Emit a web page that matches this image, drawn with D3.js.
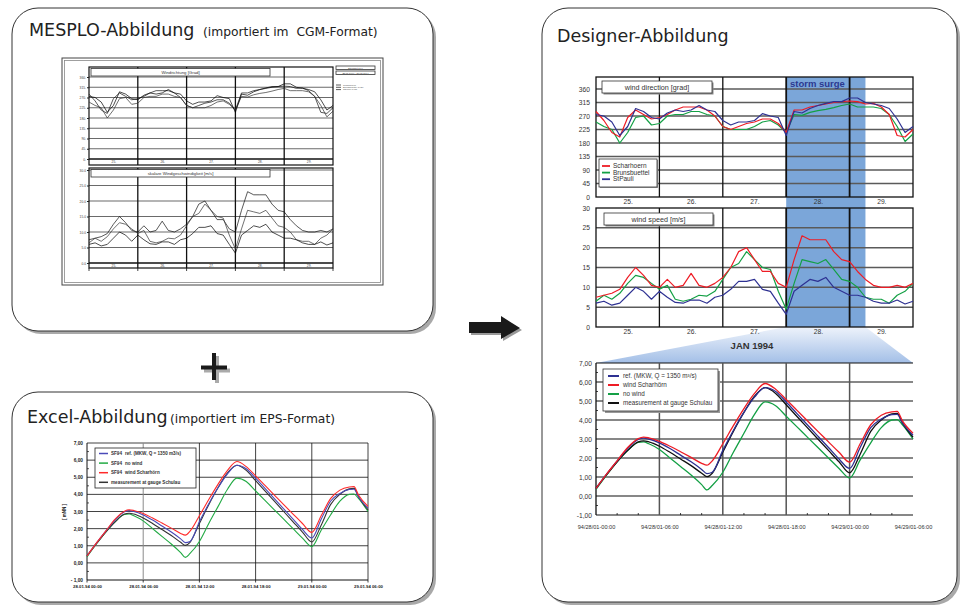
<!DOCTYPE html>
<html>
<head>
<meta charset="utf-8">
<script src="https://cdnjs.cloudflare.com/ajax/libs/d3/7.8.5/d3.min.js"></script>
<style>
  body { margin: 0; background: #fff; }
  svg { display: block; }
</style>
</head>
<body>
<script>
// wind 25.-29. Jan 1994, sampled every 3 hours
var windHours = [0, 3, 6, 9, 12, 15, 18, 21, 24, 27, 30, 33, 36, 39, 42, 45, 48, 51, 54, 57, 60,
    63, 66, 69, 72, 75, 78, 81, 84, 87, 90, 93, 96, 99, 102, 105, 108, 111, 114, 117, 120];
var days = ['25.', '26.', '27.', '28.', '29.'];
var dayCenters = [12, 36, 60, 84, 108];
var dayLines = [24, 48, 72, 96];
var dirTicks = [0, 45, 90, 135, 180, 225, 270, 315, 360];
var speedTicks = [0, 5, 10, 15, 20, 25, 30];
var surge = [72, 102];

var dirScharhoern = [285, 255, 215, 200, 265, 290, 275, 260, 265, 275, 290, 300, 300, 300, 290, 270, 235,
    225, 235, 245, 250, 260, 260, 245, 215, 290, 290, 300, 305, 310, 315, 318, 320,
    318, 310, 312, 300, 275, 205, 200, 225];
var dirBrunsbuettel = [250, 235, 225, 180, 215, 265, 270, 240, 245, 270, 275, 275, 285, 285, 275, 270, 235,
    225, 225, 225, 235, 250, 255, 240, 215, 275, 272, 282, 288, 292, 298, 305, 310,
    300, 300, 300, 295, 275, 235, 185, 210];
var dirStPauli = [275, 270, 250, 205, 235, 295, 285, 265, 260, 280, 290, 285, 290, 305, 290, 285, 255,
    240, 250, 250, 255, 278, 270, 265, 205, 285, 280, 295, 305, 312, 318, 318, 330,
    330, 315, 310, 305, 295, 260, 215, 235];

var spdScharhoern = [7.5, 8, 8.5, 9.5, 12.5, 15, 13, 10.5, 10, 12, 10, 10.5, 13.5, 10.5, 10, 11, 12.5,
    15, 19, 20, 17, 14, 14, 11, 10, 17, 23, 22, 22, 22, 19, 17, 16.5,
    14, 12, 10.5, 10, 10, 10.5, 10, 11];
var spdBrunsbuettel = [6.5, 8, 7, 8.5, 11, 13, 12.5, 11, 9.5, 10.5, 7, 6.5, 7, 8, 7.8, 9, 12,
    15, 16, 19, 17, 15, 14.5, 9, 4.5, 11, 17, 16.5, 16, 17, 14.5, 12, 11.5,
    10, 7.5, 7, 7, 6, 8, 9, 11];
var spdStPauli = [6, 6.5, 5.5, 6, 8, 10, 9, 7, 9, 7.5, 6.2, 6, 6.8, 6.8, 6, 7.5, 8,
    9.5, 11.5, 11.5, 12, 9.5, 9, 6, 3.2, 9, 10.5, 12, 11.5, 12.5, 10, 9, 8,
    8, 7.5, 6.5, 6, 6, 6.8, 5.8, 6.5];

// water level 28.01.94 00:00 - 29.01.94 06:00 (hours)
var levelHours = [0, 1, 2, 3, 4, 4.5, 5, 6, 7, 8, 9, 10, 10.5, 11, 12, 13, 14, 15, 16, 17, 18,
    19, 20, 21, 22, 23, 24, 25, 26, 27, 28, 28.5, 29, 30];
var levelTicks = [-1, 0, 1, 2, 3, 4, 5, 6, 7];
var levelTimeTicks = [0, 6, 12, 18, 24, 30];
var designerTimeLabels = ['94/28/01-00:00', '94/28/01-06:00', '94/28/01-12:00',
    '94/28/01-18:00', '94/29/01-00:00', '94/29/01-06:00'];
var excelTimeLabels = ['28.01.94 00:00', '28.01.94 06:00', '28.01.94 12:00',
    '28.01.94 18:00', '29.01.94 00:00', '29.01.94 06:00'];

var levelRef = [0.40, 1.15, 1.85, 2.50, 2.98, 3.05, 3.00, 2.80, 2.50, 2.15, 1.80, 1.40, 1.18, 1.25, 2.40,
    3.45, 4.40, 5.20, 5.70, 5.50, 4.95, 4.35, 3.75, 3.15, 2.55, 1.95, 1.45, 2.55, 3.60, 4.05,
    4.28, 4.30, 3.85, 3.20];
var levelWind = [0.40, 1.15, 1.85, 2.55, 3.02, 3.10, 3.06, 2.88, 2.62, 2.33, 2.03, 1.72, 1.62, 1.85, 2.75,
    3.70, 4.60, 5.40, 5.92, 5.62, 5.08, 4.52, 3.96, 3.40, 2.85, 2.30, 1.78, 2.75, 3.75, 4.25,
    4.43, 4.45, 3.95, 3.30];
var levelNoWind = [0.35, 1.10, 1.80, 2.40, 2.82, 2.85, 2.75, 2.45, 2.00, 1.55, 1.10, 0.60, 0.32, 0.55, 1.25,
    2.30, 3.30, 4.30, 4.95, 4.75, 4.20, 3.65, 3.10, 2.55, 2.00, 1.45, 0.95, 1.90, 2.80, 3.60,
    4.00, 4.02, 3.75, 3.00];
var levelGauge = [0.40, 1.12, 1.80, 2.40, 2.85, 2.90, 2.85, 2.62, 2.30, 1.95, 1.60, 1.20, 1.02, 1.20, 2.30,
    3.40, 4.40, 5.25, 5.70, 5.40, 4.80, 4.20, 3.60, 3.00, 2.40, 1.80, 1.22, 2.20, 3.40, 4.00,
    4.32, 4.35, 3.85, 3.10];

var RED = '#ee1c25', GREEN = '#14a045', BLUE = '#2e3192', BLACK = '#111';
var titleFont = '"DejaVu Sans", Verdana, sans-serif';
var chartFont = '"Liberation Sans", Arial, sans-serif';

var svg = d3.select('body').append('svg')
    .attr('width', 964)
    .attr('height', 607);

function panel(x, y, w, h) {
    svg.append('rect').attr('x', x + 3).attr('y', y + 3).attr('width', w).attr('height', h)
        .attr('rx', 26).attr('fill', '#a9a9a9');
    svg.append('rect').attr('x', x).attr('y', y).attr('width', w).attr('height', h)
        .attr('rx', 26).attr('fill', '#fff').attr('stroke', '#333').attr('stroke-width', 1);
}

function title(x, y, big, small, smallX) {
    var t = svg.append('text').attr('x', x).attr('y', y).attr('fill', '#222')
        .style('font-family', titleFont).style('white-space', 'pre');
    t.append('tspan').attr('font-size', 17.5).text(big);
    if (small) t.append('tspan').attr('x', smallX).attr('font-size', 12.3).text(small);
}

function hline(g, x1, x2, y, color, width) {
    g.append('line').attr('x1', x1).attr('x2', x2).attr('y1', y).attr('y2', y)
        .attr('stroke', color).attr('stroke-width', width);
}
function vline(g, x, y1, y2, color, width) {
    g.append('line').attr('x1', x).attr('x2', x).attr('y1', y1).attr('y2', y2)
        .attr('stroke', color).attr('stroke-width', width);
}

function series(g, xs, ys, x, y, color, width) {
    var line = d3.line().x(function (d) { return x(d[0]); }).y(function (d) { return y(d[1]); });
    g.append('path').datum(d3.zip(xs, ys)).attr('d', line)
        .attr('fill', 'none').attr('stroke', color).attr('stroke-width', width)
        .attr('stroke-linejoin', 'round');
}

function smooth(g, xs, ys, x, y, color, width) {
    var line = d3.line().curve(d3.curveMonotoneX)
        .x(function (d) { return x(d[0]); }).y(function (d) { return y(d[1]); });
    g.append('path').datum(d3.zip(xs, ys)).attr('d', line)
        .attr('fill', 'none').attr('stroke', color).attr('stroke-width', width);
}

function labelAxis(g, axis, tx, ty, size, color, weight) {
    var a = g.append('g').attr('transform', 'translate(' + tx + ',' + ty + ')').call(axis);
    a.select('.domain').remove();
    a.selectAll('line').attr('stroke', '#222');
    a.selectAll('text').attr('font-family', chartFont).attr('font-size', size)
        .attr('fill', color).attr('font-weight', weight || 'normal');
    return a;
}

function boxLabel(g, x, y, w, h, text, size, shadow) {
    if (shadow) g.append('rect').attr('x', x + shadow).attr('y', y + shadow).attr('width', w).attr('height', h)
        .attr('fill', '#8a8a8a');
    g.append('rect').attr('x', x).attr('y', y).attr('width', w).attr('height', h)
        .attr('fill', '#fff').attr('stroke', '#333').attr('stroke-width', 0.8);
    if (text) g.append('text').attr('x', x + w / 2).attr('y', y + h / 2).attr('dy', '0.35em')
        .attr('text-anchor', 'middle').attr('font-family', chartFont).attr('font-size', size)
        .attr('fill', '#333').text(text);
}

// ---------- panels ----------
panel(12, 8, 421, 323);
panel(12, 392, 421, 210);
panel(542, 8, 415, 594);
title(29, 36, 'MESPLO-Abbildung', '(importiert im  CGM-Format)', 203);
title(27, 423, 'Excel-Abbildung', '(importiert im EPS-Format)', 170);
title(557, 42, 'Designer-Abbildung');

// plus and arrow
svg.append('rect').attr('x', 204).attr('y', 368.5).attr('width', 26).attr('height', 4).attr('fill', '#aaa');
svg.append('rect').attr('x', 215).attr('y', 356).attr('width', 4).attr('height', 27).attr('fill', '#aaa');
svg.append('rect').attr('x', 201).attr('y', 365.5).attr('width', 26).attr('height', 4).attr('fill', '#1a1a1a');
svg.append('rect').attr('x', 212).attr('y', 353).attr('width', 4).attr('height', 27).attr('fill', '#1a1a1a');
var arrowPts = [[469, 322], [501, 322], [501, 316], [520, 328], [501, 339], [501, 333], [469, 333]];
svg.append('polygon').attr('points', arrowPts.map(function (p) { return (p[0] + 2) + ',' + (p[1] + 2); }).join(' '))
    .attr('fill', '#999');
svg.append('polygon').attr('points', arrowPts.join(' ')).attr('fill', '#1a1a1a');

// ---------- MESPLO picture ----------
var mg = svg.append('g');
mg.append('rect').attr('x', 62).attr('y', 58).attr('width', 321).attr('height', 227)
    .attr('fill', '#fff').attr('stroke', '#444').attr('stroke-width', 1);
mg.append('rect').attr('x', 64.5).attr('y', 60.5).attr('width', 316).attr('height', 222)
    .attr('fill', 'none').attr('stroke', '#888').attr('stroke-width', 0.8);

var xM = d3.scaleLinear().domain([0, 120]).range([89, 333]);
var yMD = d3.scaleLinear().domain([0, 360]).range([159, 77]);
var yMS = d3.scaleLinear().domain([0, 30]).range([263, 170]);

function mesploChart(top, bottom, y, ticks, fmt, name, a, b, c) {
    var zero = y(0);
    ticks.forEach(function (t) {
        if (t > 0) hline(mg, xM(0), xM(120), y(t), '#6a6a6a', 1.1);
    });
    hline(mg, xM(0), xM(120), zero, '#111', 1.4);
    dayLines.forEach(function (d) { vline(mg, xM(d), top, bottom, '#111', 1.3); });
    mg.append('rect').attr('x', xM(0)).attr('y', top).attr('width', xM(120) - xM(0)).attr('height', bottom - top)
        .attr('fill', 'none').attr('stroke', '#111').attr('stroke-width', 1.2);
    boxLabel(mg, 91, top + 1.5, 179, 7.5, name, 4.3);
    series(mg, windHours, a, xM, y, '#111', 0.7);
    series(mg, windHours, b, xM, y, '#333', 0.7);
    series(mg, windHours, c, xM, y, '#000', 0.7);
    labelAxis(mg, d3.axisLeft(y).tickValues(ticks).tickFormat(fmt).tickSize(2).tickPadding(1),
        xM(0), 0, 3.3, '#444');
    labelAxis(mg, d3.axisBottom(xM).tickValues(dayCenters).tickFormat(function (d, i) { return days[i]; })
        .tickSize(0).tickPadding(1.2), 0, zero, 3.3, '#444');
}
mesploChart(67, 165, yMD, dirTicks, function (d) { return d + '.'; }, 'Windrichtung [Grad]',
    dirScharhoern, dirBrunsbuettel, dirStPauli);
mesploChart(168, 268, yMS, speedTicks, function (d) { return d.toFixed(1); }, 'skalare Windgeschwindigkeit [m/s]',
    spdScharhoern, spdBrunsbuettel, spdStPauli);
[0, 24, 48, 72, 96, 120].forEach(function (d) { vline(mg, xM(d), 268, 271, '#111', 0.8); });

boxLabel(mg, 336, 66, 39, 3.5, 'Sturmflut 1/94', 2.4);
boxLabel(mg, 336, 71, 39, 3.5, '25.01.1994 - 30.01.1994', 2.4);
['Scharhoern', 'Brunsbuettel 1426', 'StPauli 1457'].forEach(function (s, i) {
    var yy = 85 + i * 2.3;
    hline(mg, 336, 341, yy, '#333', 0.8);
    mg.append('text').attr('x', 343).attr('y', yy).attr('dy', '0.35em').attr('font-family', chartFont)
        .attr('font-size', 2.5).attr('fill', '#555').text(s);
});

// ---------- Excel picture ----------
var eg = svg.append('g');
var xE = d3.scaleLinear().domain([0, 30]).range([87, 368]);
var yE = d3.scaleLinear().domain([-1, 7]).range([580, 443]);
levelTicks.forEach(function (t) { hline(eg, xE(0), xE(30), yE(t), '#111', t === -1 ? 1 : 0.8); });
[6, 12, 18, 24, 30].forEach(function (h) {
    vline(eg, xE(h), yE(7), yE(-1), h === 6 ? '#8a8a8a' : '#111', h === 6 ? 1 : 0.8);
});
vline(eg, xE(0), yE(7), yE(-1), '#111', 1);
[-0.5, 0.5, 1.5, 2.5, 3.5, 4.5, 5.5, 6.5].forEach(function (t) { hline(eg, xE(0), xE(0) + 2, yE(t), '#111', 0.7); });
levelTimeTicks.forEach(function (h) { vline(eg, xE(h), yE(-1), yE(-1) + 2.5, '#111', 0.8); });

smooth(eg, levelHours, levelNoWind, xE, yE, '#22aa44', 1.1);
smooth(eg, levelHours, levelGauge, xE, yE, '#333', 1.1);
smooth(eg, levelHours, levelRef, xE, yE, '#4a4ab8', 1.1);
smooth(eg, levelHours, levelWind, xE, yE, '#ff2a2a', 1.1);

labelAxis(eg, d3.axisLeft(yE).tickValues(levelTicks).tickSize(0).tickPadding(4)
    .tickFormat(function (d) { return d < 0 ? '- ' + Math.abs(d).toFixed(2).replace('.', ',') : d.toFixed(2).replace('.', ','); }),
    xE(0), 0, 4.8, '#222', 'bold');
labelAxis(eg, d3.axisBottom(xE).tickValues(levelTimeTicks).tickSize(0).tickPadding(5)
    .tickFormat(function (d, i) { return excelTimeLabels[i]; }), 0, yE(-1), 4.3, '#222', 'bold');
eg.append('text').attr('transform', 'translate(66,512) rotate(-90)').attr('text-anchor', 'middle')
    .attr('font-family', chartFont).attr('font-size', 4.5).attr('font-weight', 'bold').attr('fill', '#222')
    .text('[ mNN ]');

eg.append('rect').attr('x', 95).attr('y', 448).attr('width', 101).attr('height', 40)
    .attr('fill', '#fff').attr('stroke', '#222').attr('stroke-width', 0.8);
var excelLegend = [
    ['#4a4ab8', 'SF94', 'ref. (MKW, Q = 1350 m3/s)'],
    ['#22aa44', 'SF94', 'no wind'],
    ['#ff2a2a', 'SF94', 'wind Scharhörn'],
    ['#333', '', 'measurement at gauge Schulau']
];
excelLegend.forEach(function (e, i) {
    var yy = 453.5 + i * 9.6;
    hline(eg, 99, 108, yy, e[0], 1.5);
    eg.append('text').attr('x', 111).attr('y', yy).attr('dy', '0.35em').attr('font-family', chartFont)
        .attr('font-size', 4.6).attr('font-weight', 'bold').attr('fill', '#333').text(e[1]);
    eg.append('text').attr('x', e[1] ? 125 : 111).attr('y', yy).attr('dy', '0.35em').attr('font-family', chartFont)
        .attr('font-size', 4.6).attr('font-weight', 'bold').attr('fill', '#333').text(e[2]);
});

// ---------- Designer picture ----------
var dg = svg.append('g');
var xD = d3.scaleLinear().domain([0, 120]).range([596, 913]);
var yDir = d3.scaleLinear().domain([0, 360]).range([197, 89]);
var ySpd = d3.scaleLinear().domain([0, 30]).range([327, 208]);
var xL = d3.scaleLinear().domain([0, 30]).range([596, 913]);
var yL = d3.scaleLinear().domain([-1, 7]).range([515, 363]);

var grad = svg.append('defs').append('linearGradient').attr('id', 'zoomGrad')
    .attr('x1', 0).attr('y1', 0).attr('x2', 0).attr('y2', 1);
grad.append('stop').attr('offset', '0%').attr('stop-color', '#eef3fb');
grad.append('stop').attr('offset', '100%').attr('stop-color', '#a3bfe7');

dg.append('rect').attr('x', xD(surge[0])).attr('y', 77).attr('width', xD(surge[1]) - xD(surge[0]))
    .attr('height', ySpd(0) - 77).attr('fill', '#7ba6d9');
dg.append('polygon').attr('points', [[xD(surge[0]), ySpd(0)], [xD(surge[1]), ySpd(0)],
    [xL(30), yL(7)], [xL(0), yL(7)]].join(' ')).attr('fill', 'url(#zoomGrad)');

function designerWind(top, y, ticks, name, box, a, b, c) {
    ticks.forEach(function (t) {
        if (t > 0 && y(t) > top + 1) hline(dg, xD(0), xD(120), y(t), '#5a5a5a', 1.5);
    });
    dayLines.forEach(function (d) {
        vline(dg, xD(d), top, y(0), '#111', d >= surge[0] ? 1.8 : 1.3);
    });
    dg.append('rect').attr('x', xD(0)).attr('y', top).attr('width', xD(120) - xD(0)).attr('height', y(0) - top)
        .attr('fill', 'none').attr('stroke', '#111').attr('stroke-width', 1.3);
    series(dg, windHours, b, xD, y, GREEN, 1.2);
    series(dg, windHours, a, xD, y, RED, 1.2);
    series(dg, windHours, c, xD, y, BLUE, 1.2);
    boxLabel(dg, box[0], box[1], box[2], box[3], name, 7.2, 1.5);
    labelAxis(dg, d3.axisLeft(y).tickValues(ticks).tickSize(0).tickPadding(6), xD(0), 0, 6.7, '#333');
    labelAxis(dg, d3.axisBottom(xD).tickValues(dayCenters).tickFormat(function (d, i) { return days[i]; })
        .tickSize(0).tickPadding(2.3), 0, y(0), 6.7, '#333');
}
designerWind(77, yDir, dirTicks, 'wind direction [grad]', [602, 81, 110, 12],
    dirScharhoern, dirBrunsbuettel, dirStPauli);
designerWind(208, ySpd, speedTicks, 'wind speed [m/s]', [604, 213, 109, 12],
    spdScharhoern, spdBrunsbuettel, spdStPauli);

dg.append('text').attr('x', 790).attr('y', 87).attr('font-family', chartFont).attr('font-size', 9.5)
    .attr('font-weight', 'bold').attr('fill', '#2b3990').text('storm surge');
dg.append('text').attr('x', 752).attr('y', 348.5).attr('text-anchor', 'middle').attr('font-family', chartFont)
    .attr('font-size', 9.5).attr('font-weight', 'bold').attr('fill', '#333').text('JAN 1994');

// wind legend
dg.append('rect').attr('x', 600).attr('y', 160).attr('width', 58).attr('height', 28).attr('fill', '#999');
dg.append('rect').attr('x', 599).attr('y', 159).attr('width', 58).attr('height', 28)
    .attr('fill', '#fff').attr('stroke', '#333').attr('stroke-width', 0.8);
[[RED, 'Scharhoern'], [GREEN, 'Brunsbuettel'], [BLUE, 'StPauli']].forEach(function (e, i) {
    var yy = 166 + i * 6.6;
    hline(dg, 602, 610, yy, e[0], 1.8);
    dg.append('text').attr('x', 613).attr('y', yy).attr('dy', '0.35em').attr('font-family', chartFont)
        .attr('font-size', 6.5).attr('fill', '#333').text(e[1]);
});

// water level chart
levelTicks.forEach(function (t) { hline(dg, xL(0), xL(30), yL(t), '#111', 1.1); });
[6, 12, 18, 24].forEach(function (h) { vline(dg, xL(h), yL(7), yL(-1), '#555', 1.5); });
vline(dg, xL(0), yL(7), yL(-1), '#111', 1.3);
[2, 4, 8, 10, 14, 16, 20, 22, 26, 28].forEach(function (h) { vline(dg, xL(h), yL(-1) - 2, yL(-1), '#111', 0.8); });
[-0.5, 0.5, 1.5, 2.5, 3.5, 4.5, 5.5, 6.5].forEach(function (t) { hline(dg, xL(0), xL(0) + 2, yL(t), '#111', 0.8); });

smooth(dg, levelHours, levelNoWind, xL, yL, GREEN, 1.3);
smooth(dg, levelHours, levelGauge, xL, yL, BLACK, 1.3);
smooth(dg, levelHours, levelRef, xL, yL, BLUE, 1.3);
smooth(dg, levelHours, levelWind, xL, yL, RED, 1.3);

labelAxis(dg, d3.axisLeft(yL).tickValues(levelTicks).tickSize(0).tickPadding(4)
    .tickFormat(function (d) { return d.toFixed(2).replace('.', ','); }), xL(0), 0, 6.7, '#333');
labelAxis(dg, d3.axisBottom(xL).tickValues(levelTimeTicks).tickSize(0).tickPadding(10)
    .tickFormat(function (d, i) { return designerTimeLabels[i]; }), 0, yL(-1), 5.6, '#333');

dg.append('rect').attr('x', 605).attr('y', 371).attr('width', 115).attr('height', 42).attr('fill', '#999');
dg.append('rect').attr('x', 603).attr('y', 369).attr('width', 115).attr('height', 42)
    .attr('fill', '#fff').attr('stroke', '#333').attr('stroke-width', 0.8);
[[BLUE, 'ref. (MKW, Q = 1350 m³/s)'], [RED, 'wind Scharhörn'], [GREEN, 'no wind'],
    [BLACK, 'measurement at gauge Schulau']].forEach(function (e, i) {
    var yy = 376 + i * 9;
    hline(dg, 608, 619, yy, e[0], 2);
    dg.append('text').attr('x', 623).attr('y', yy).attr('dy', '0.35em').attr('font-family', chartFont)
        .attr('font-size', 6.3).attr('fill', '#333').text(e[1]);
});
</script>
</body>
</html>
